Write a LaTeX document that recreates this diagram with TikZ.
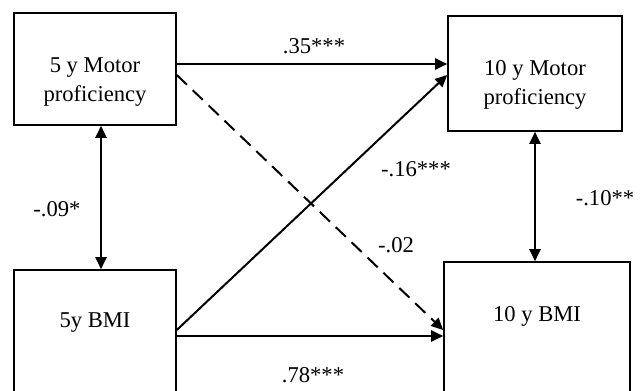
\documentclass[tikz,border=0pt]{standalone}
\usepackage{fontspec}
\setmainfont{Liberation Serif}
\usetikzlibrary{arrows.meta,positioning}

\begin{document}
\begin{tikzpicture}[x=0.5pt,y=-0.5pt,font=\fontsize{11.3}{14.5}\selectfont,
  box/.style={draw,line width=0.8pt,inner sep=0pt},
  txt/.style={align=center,inner sep=0pt},
  path/.style={line width=1pt,-{Triangle[length=6pt,width=5.5pt]}},
  cov/.style={line width=1pt,{Triangle[length=6pt,width=5.5pt]}-{Triangle[length=6pt,width=5.5pt]}},
  lab/.style={inner sep=0pt}]

\useasboundingbox (0,0) rectangle (643,391);
\clip (0,0) rectangle (643,391);

% 方框
\node[box,minimum width=81pt,minimum height=56pt] (m5) at (95,69) {};
\node[box,minimum width=87pt,minimum height=57.5pt] (m10) at (535,73.5) {};
\node[box,minimum width=81pt,minimum height=66pt] (b5) at (95,336) {};
\node[box,minimum width=93pt,minimum height=68pt] (b10) at (537,330) {};

% 文字
\node[txt] (m5txt) at (95,82) {5 y Motor\\proficiency};
\node[txt] (m10txt) at (535,85) {10 y Motor\\proficiency};
\node[txt] (b5txt) at (95,323) {5y BMI};
\node[txt] (b10txt) at (537,316) {10 y BMI};

% 路径
\draw[path] ([yshift=2.5pt]m5.east) -- ([yshift=4.75pt]m10.west);
\draw[path,dash pattern=on 7pt off 4pt] ([yshift=-3pt]m5.east) -- (b10.west);
\draw[path] ([yshift=3pt]b5.east) -- ([yshift=-0.75pt]m10.west);
\draw[path] (b5.east) -- ([yshift=-3pt]b10.west);

% 相关
\draw[cov] ([xshift=3pt]m5.south) -- ([xshift=3pt]b5.north);
\draw[cov] (m10.south) -- (m10.south |- b10.north);

% 系数
\node[lab] (l35) at (314,46) {.35***};
\node[lab] (l16) at (416,169) {-.16***};
\node[lab] (l02) at (396,245) {-.02};
\node[lab] (l78) at (313,375) {.78***};
\node[lab] (l09) at (57,209) {-.09*};
\node[lab] (l10) at (605,198) {-.10**};

\end{tikzpicture}
\end{document}
